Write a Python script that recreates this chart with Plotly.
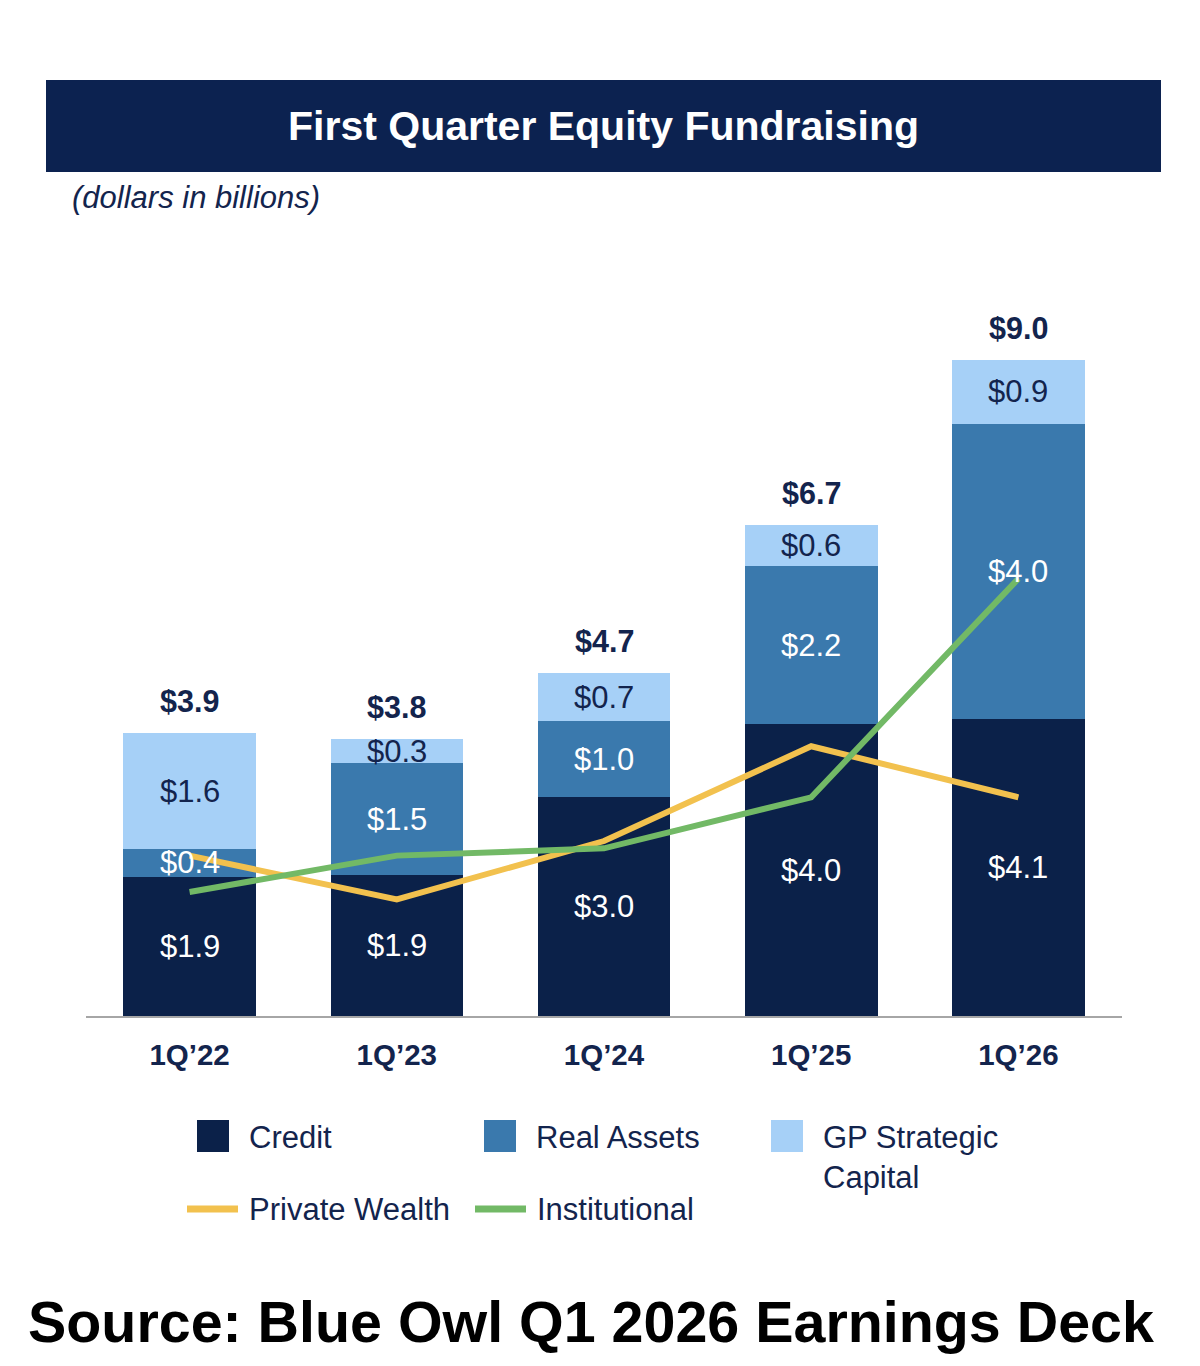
import plotly.graph_objects as go

# ---------------- data ----------------
categories = ["1Q\u201922", "1Q\u201923", "1Q\u201924", "1Q\u201925", "1Q\u201926"]
credit = [1.91, 1.93, 3.00, 4.00, 4.08]
real_assets = [0.38, 1.54, 1.04, 2.17, 4.04]
gp_strategic = [1.59, 0.33, 0.66, 0.56, 0.88]
private_wealth = [2.2, 1.6, 2.4, 3.7, 3.0]
institutional = [1.7, 2.2, 2.3, 3.0, 6.0]

# ---------------- styles ----------------
NAVY = "#0b2149"
MID = "#3a79ad"
LIGHT = "#a6d0f7"
YELLOW = "#f2c14e"
GREEN = "#72b966"
TEXT = "#13244d"
FONT = "Liberation Sans, Arial, sans-serif"

OFF = 8  # page body offset
W, H = 1200, 1366
ML, MT = 86 - OFF, 280 - OFF
PLOT_R, PLOT_B = 1122 - OFF, 1016 - OFF
MR, MB = W - PLOT_R, H - PLOT_B
PW_ = W - ML - MR
PH_ = H - MT - MB


def px(xp):
    return (xp - OFF - ML) / PW_


def py(yp):
    return (PLOT_B - (yp - OFF)) / PH_


fig = go.Figure()
for name, vals, col in [("Credit", credit, NAVY),
                        ("Real Assets", real_assets, MID),
                        ("GP Strategic Capital", gp_strategic, LIGHT)]:
    fig.add_trace(go.Bar(x=categories, y=vals, name=name, marker_color=col,
                         marker_line_width=0, width=0.64, showlegend=False,
                         hoverinfo="skip"))

fig.add_trace(go.Scatter(x=categories, y=private_wealth, name="Private Wealth",
                         mode="lines", line=dict(color=YELLOW, width=6),
                         showlegend=False))
fig.add_trace(go.Scatter(x=categories, y=institutional, name="Institutional",
                         mode="lines", line=dict(color=GREEN, width=6),
                         showlegend=False))

annotations = []
for i, c in enumerate(categories):
    segs = [(credit[i], "white"), (real_assets[i], "white"), (gp_strategic[i], TEXT)]
    base = 0.0
    for v, tc in segs:
        annotations.append(dict(x=c, y=base + v / 2, xref="x", yref="y",
                                text=f"${v:.1f}", showarrow=False,
                                font=dict(family=FONT, size=31, color=tc)))
        base += v
    annotations.append(dict(x=c, y=base, xref="x", yref="y", yshift=32,
                            text=f"<b>${base:.1f}</b>", showarrow=False,
                            font=dict(family=FONT, size=30.5, color=TEXT)))

# title band
shapes = [dict(type="rect", xref="paper", yref="paper",
               x0=px(46), x1=px(1161), y0=py(172), y1=py(80),
               fillcolor="#0c2250", line_width=0, layer="below")]
annotations.append(dict(xref="paper", yref="paper", x=px(603), y=py(126),
                        text="<b>First Quarter Equity Fundraising</b>",
                        showarrow=False, xanchor="center", yanchor="middle",
                        font=dict(family=FONT, size=41, color="white")))
annotations.append(dict(xref="paper", yref="paper", x=px(70), y=py(198),
                        text="<i>(dollars in billions)</i>",
                        showarrow=False, xanchor="left", yanchor="middle",
                        font=dict(family=FONT, size=31, color=TEXT)))

# legend (manual)
legend_boxes = [(197, 1136, NAVY, "Credit"),
                (484, 1136, MID, "Real Assets"),
                (771, 1136, LIGHT, "GP Strategic<br>Capital")]
for x0, yc, col, lab in legend_boxes:
    shapes.append(dict(type="rect", xref="paper", yref="paper",
                       x0=px(x0), x1=px(x0 + 32), y0=py(yc + 16), y1=py(yc - 16),
                       fillcolor=col, line_width=0))
    annotations.append(dict(xref="paper", yref="paper", x=px(x0 + 50), y=py(yc - 18),
                            text=lab, showarrow=False, xanchor="left", yanchor="top",
                            align="left",
                            font=dict(family=FONT, size=31, color=TEXT)))
legend_lines = [(187, 1209, YELLOW, "Private Wealth"),
                (475, 1209, GREEN, "Institutional")]
for x0, yc, col, lab in legend_lines:
    shapes.append(dict(type="line", xref="paper", yref="paper",
                       x0=px(x0), x1=px(x0 + 51), y0=py(yc), y1=py(yc),
                       line=dict(color=col, width=7)))
    annotations.append(dict(xref="paper", yref="paper", x=px(x0 + 60), y=py(yc),
                            text=lab, showarrow=False, xanchor="left", yanchor="middle",
                            font=dict(family=FONT, size=31, color=TEXT)))

# source
annotations.append(dict(xref="paper", yref="paper", x=px(591), y=py(1322),
                        text="<b>Source: Blue Owl Q1 2026 Earnings Deck</b>",
                        showarrow=False, xanchor="center", yanchor="middle",
                        font=dict(family=FONT, size=57.4, color="black")))

fig.update_layout(
    width=W, height=H,
    margin=dict(l=ML, r=MR, t=MT, b=MB),
    barmode="stack",
    plot_bgcolor="white", paper_bgcolor="white",
    showlegend=False,
    shapes=shapes, annotations=annotations,
    font=dict(family=FONT, color=TEXT),
    xaxis=dict(type="category", range=[-0.5, 4.5], showline=True,
               linecolor="#a6a6a6", linewidth=2, ticks="",
               showgrid=False, zeroline=False, ticklabelstandoff=12,
               tickfont=dict(family=FONT, size=29.5, color=TEXT),
               tickvals=categories,
               ticktext=[f"<b>{c}</b>" for c in categories]),
    yaxis=dict(range=[0, PH_ / 72.9], visible=False, showgrid=False,
               zeroline=False),
)

fig.write_html("out.html")
